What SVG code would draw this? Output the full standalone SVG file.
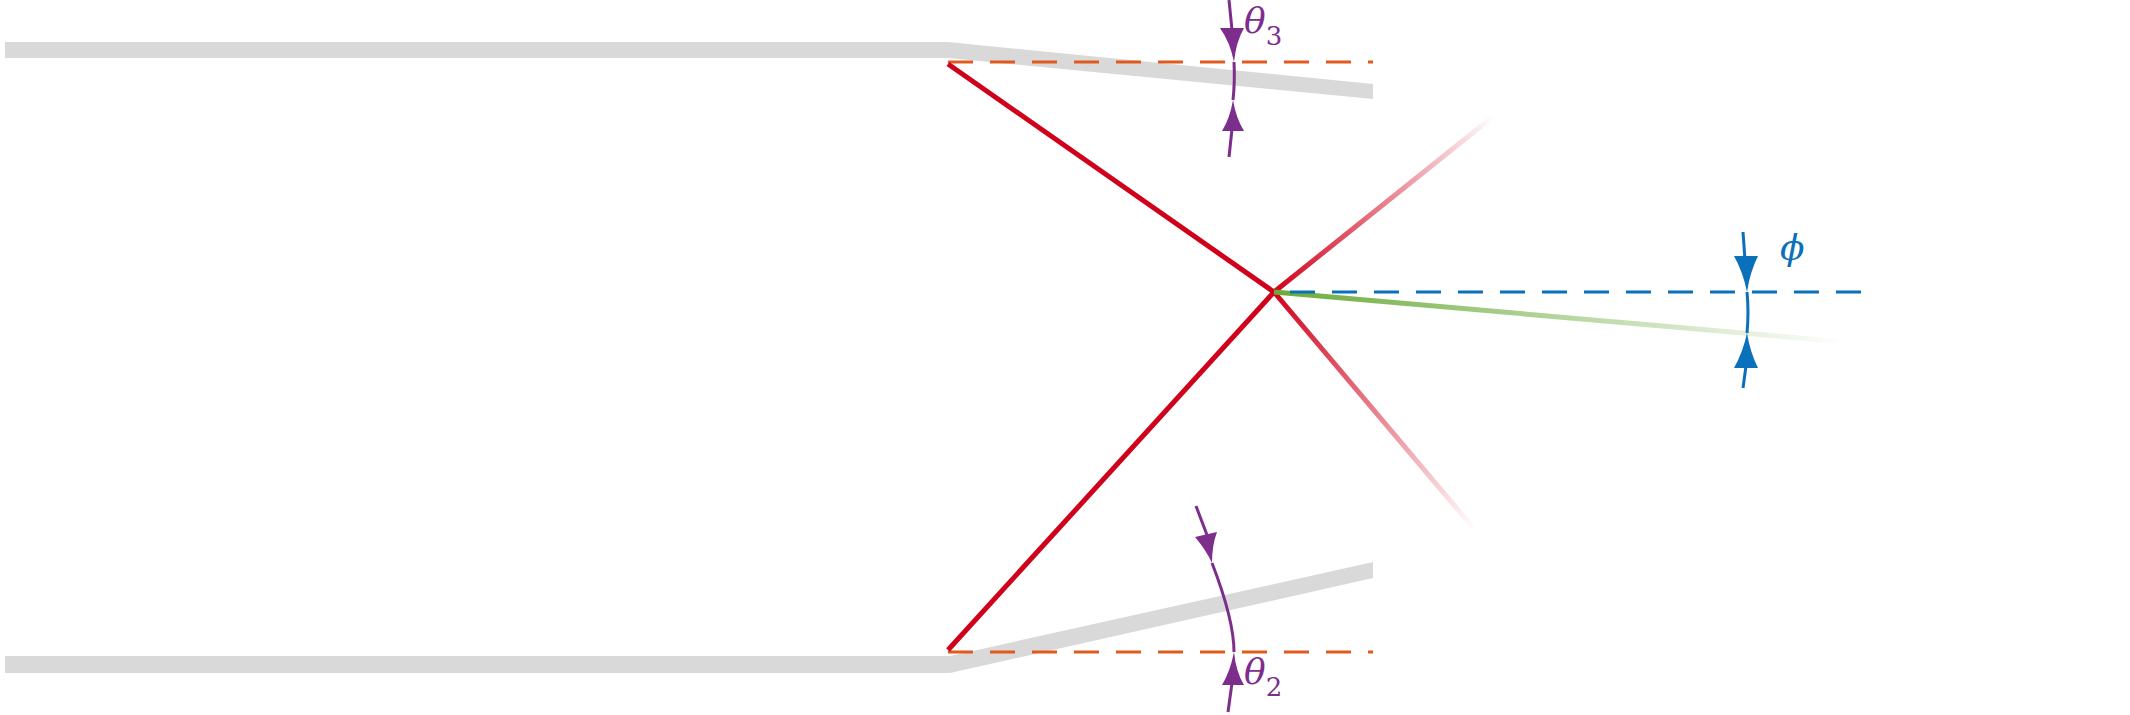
<svg xmlns="http://www.w3.org/2000/svg" width="2130" height="715" viewBox="0 0 2130 715">
<defs>
<style>
.band{fill:#d9d9d9}
.red{stroke:#d0021b;stroke-width:5;fill:none}
.or{stroke:#e05a1e;stroke-width:3;stroke-dasharray:25,17;fill:none}
.bl{stroke:#0a70ba;stroke-width:3;fill:none}
.pu{stroke:#7d2d8c;stroke-width:3;fill:none}
.lab{font-family:"DejaVu Serif",serif;font-style:italic;font-size:36px}
</style>
<linearGradient id="gu" gradientUnits="userSpaceOnUse" x1="1274" y1="292" x2="1495" y2="115"><stop offset="0" stop-color="#d0021b"/><stop offset="1" stop-color="#d0021b" stop-opacity="0"/></linearGradient>
<linearGradient id="gd" gradientUnits="userSpaceOnUse" x1="1274" y1="292" x2="1475" y2="530"><stop offset="0" stop-color="#d0021b"/><stop offset="1" stop-color="#d0021b" stop-opacity="0"/></linearGradient>
<linearGradient id="gg" gradientUnits="userSpaceOnUse" x1="1274" y1="292" x2="1845" y2="342"><stop offset="0" stop-color="#6aab3a"/><stop offset="1" stop-color="#6aab3a" stop-opacity="0"/></linearGradient>
</defs>
<g id="walls">
<polygon class="band" points="5,42 948,42 1373,84 1373,99 948,58 5,58"/>
<polygon class="band" points="5,656 950,656 1373,562 1373,578 950,673 5,673"/>
</g>
<g id="connectors">
<line class="or" x1="948" y1="62" x2="1373" y2="62"/>
<line class="or" x1="948" y1="652" x2="1373" y2="652"/>
<line class="red" x1="948" y1="64" x2="1274" y2="292"/>
<line class="red" x1="948" y1="650" x2="1274" y2="292"/>
<line stroke="url(#gu)" stroke-width="5" x1="1274" y1="292" x2="1495" y2="115"/>
<line stroke="url(#gd)" stroke-width="5" x1="1274" y1="292" x2="1475" y2="530"/>
<line stroke="url(#gg)" stroke-width="5" x1="1274" y1="292" x2="1845" y2="342"/>
<line class="bl" x1="1290" y1="292" x2="1863" y2="292" stroke-dasharray="25,17"/>
</g>
<g id="phi">
<line class="bl" x1="1743" y1="232" x2="1745" y2="260"/>
<path d="M1736,256 L1758,256 Q1750,272 1747,292 Q1743,272 1734,256 Z" fill="#0a70ba"/>
<path class="bl" d="M1747,292 Q1749,312 1747,333"/>
<path d="M1736,368 L1758,368 Q1750,352 1747,333 Q1743,352 1734,368 Z" fill="#0a70ba"/>
<line class="bl" x1="1746" y1="366" x2="1743" y2="388"/>
<text class="lab" x="1780" y="260" fill="#0a70ba">ϕ</text>
</g>
<g id="theta3">
<line class="pu" x1="1229" y1="0" x2="1232" y2="30"/>
<path d="M1222,28 L1244,28 Q1236,42 1234,62 Q1230,42 1220,28 Z" fill="#7d2d8c"/>
<path class="pu" d="M1234,62 Q1235,82 1233,100"/>
<path d="M1222,131 L1244,131 Q1236,118 1233,100 Q1230,118 1222,131 Z" fill="#7d2d8c"/>
<line class="pu" x1="1232" y1="129" x2="1229" y2="157"/>
<text class="lab" x="1244" y="33" fill="#7d2d8c">θ<tspan font-style="normal" font-size="26" dy="12">3</tspan></text>
</g>
<g id="theta2">
<line class="pu" x1="1196" y1="506" x2="1207" y2="535"/>
<path d="M1195,537 L1217,532 Q1212,545 1212,563 Q1206,550 1195,537 Z" fill="#7d2d8c"/>
<path class="pu" d="M1212,563 Q1234,620 1234,652"/>
<path d="M1222,685 L1244,685 Q1236,672 1234,652 Q1230,672 1222,685 Z" fill="#7d2d8c"/>
<line class="pu" x1="1232" y1="683" x2="1228" y2="712"/>
<text class="lab" x="1244" y="684" fill="#7d2d8c">θ<tspan font-style="normal" font-size="26" dy="12">2</tspan></text>
</g>
</svg>
